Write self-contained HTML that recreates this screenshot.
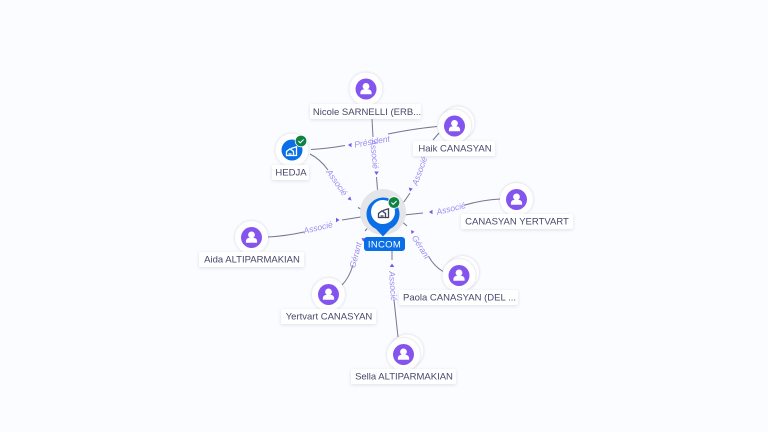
<!DOCTYPE html>
<html>
<head>
<meta charset="utf-8">
<style>
html,body{margin:0;padding:0;width:768px;height:432px;overflow:hidden;background:#fafcff}
svg{display:block}
.e{fill:none;stroke:#74768f;stroke-width:1}
.el{font:italic 8.5px "Liberation Sans",sans-serif;fill:#9a8cf0;text-anchor:middle;dominant-baseline:central}
.a{fill:#7a55e8}
.lb{fill:#fff;filter:url(#s)}
.t{font:9.5px "Liberation Sans",sans-serif;fill:#46476b;text-anchor:middle;dominant-baseline:central}
.n{fill:#fff;filter:url(#s2)}
.p{fill:#8455ee}
</style>
</head>
<body>
<svg width="768" height="432" viewBox="0 0 768 432" xmlns="http://www.w3.org/2000/svg">
<defs>
<filter id="s" x="-20%" y="-40%" width="140%" height="190%"><feDropShadow dx="0" dy="1" stdDeviation="1.5" flood-color="#50507a" flood-opacity=".16"/></filter>
<filter id="s2" x="-30%" y="-30%" width="160%" height="160%"><feDropShadow dx="0" dy="0" stdDeviation="1.2" flood-color="#50507a" flood-opacity=".28"/></filter>
<g id="person"><circle r="10.500" class="p"/><circle cy="-2.600" r="3.400" fill="#fff"/><path d="M-5.600 5.200v-1.500c0-2 1.600-3.300 3.500-3.300h4.200c1.900 0 3.500 1.300 3.500 3.300v1.500z" fill="#fff"/></g>
<g id="chk"><circle r="5.800" fill="#0f8246" stroke="#fff" stroke-width=".8"/><path d="M-2.600 0l1.800 1.900 3.400-3.400" fill="none" stroke="#fff" stroke-width="1"/></g>
<g id="bld"><path d="M-5.500 4.500v-4l3.500-2.700 3.500 2.700v4z" fill="none" stroke-width="1.300"/><path d="M-1-2.500l5.500-1.700v8.700h-3" fill="none" stroke-width="1.300"/><path d="M-3.500 3h3" stroke-width="1.300"/></g>
</defs>

<!-- edges -->
<path class="e" d="M311 149.500Q328 148.500 345 145.500"/>
<path class="e" d="M388 134Q412 129 437 126.500"/>
<path class="e" d="M372 119L373 137"/>
<path class="e" d="M376.500 177L378 196"/>
<path class="e" d="M439 133L433 140"/>
<path class="e" d="M410 193Q405 201 399 208"/>
<path class="e" d="M310 154Q320 159 328 170"/>
<path class="e" d="M358 207.500L368 213"/>
<path class="e" d="M500 199Q482 200 465 205"/>
<path class="e" d="M423 213L399 215.500"/>
<path class="e" d="M268 237Q286 236 304 232"/>
<path class="e" d="M342 220L367 216"/>
<path class="e" d="M342 285Q349 278 353 265"/>
<path class="e" d="M365 231L372 223"/>
<path class="e" d="M443 271.500Q434 266 429 257"/>
<path class="e" d="M407 226L399 219"/>
<path class="e" d="M398 337L394 300"/>
<path class="e" d="M392 260L392 251"/>

<!-- edge labels -->
<text class="el" transform="translate(372 141.500) rotate(-10)">Président</text>
<text class="el" transform="translate(374.500 154) rotate(85)">Associé</text>
<text class="el" transform="translate(419.500 171) rotate(-70)">Associé</text>
<text class="el" transform="translate(337 182.500) rotate(55)">Associé</text>
<text class="el" transform="translate(451 208.500) rotate(-14)">Associé</text>
<text class="el" transform="translate(318 227.500) rotate(-13)">Associé</text>
<text class="el" transform="translate(355.500 255) rotate(-75)">Gérant</text>
<text class="el" transform="translate(421 247) rotate(58)">Gérant</text>
<text class="el" transform="translate(393 286) rotate(86)">Associé</text>

<!-- arrowheads -->
<path class="a" d="M348 145l3.500-2.300v4.600z"/>
<path class="a" d="M376.500 175l-2.300-3.500h4.600z"/>
<path class="a" d="M410 191.500l-1.300-4 4 1.300z"/>
<path class="a" d="M351.500 200.500l-4-1.300 2.700-2.700z"/>
<path class="a" d="M429 212l3.500-2.300v4.600z"/>
<path class="a" d="M339.500 220l-3.500-2.300v4.600z"/>
<path class="a" d="M361.500 238l4 .5-2.300 3.200z"/>
<path class="a" d="M411 230l.5 4 3-2.300z"/>
<path class="a" d="M392 263.500l2.300 3.500h-4.600z"/>

<!-- centre node -->
<circle cx="383" cy="212" r="23" fill="#e4e5e9"/>
<path d="M383 236.500l-7-7.500a16.500 16.500 0 1 1 14 0z" fill="#0a6ee6"/>
<circle cx="383" cy="212" r="12" fill="#fff"/>
<use href="#bld" x="384" y="213" fill="none" stroke="#3f4160"/>
<use href="#chk" x="394" y="202.500"/>
<rect x="364" y="237" width="41" height="14" rx="3" fill="#0a6ee6"/>
<text x="384.500" y="245" style="font:9.500px 'Liberation Sans',sans-serif;fill:#fff;text-anchor:middle;dominant-baseline:central;letter-spacing:.3px">INCOM</text>

<!-- Nicole -->
<circle class="n" cx="366" cy="89" r="16.500"/>
<use href="#person" x="366" y="89"/>
<rect class="lb" x="310" y="104" width="111" height="15" rx="2"/>
<text class="t" x="367" y="112.500">Nicole SARNELLI (ERB...</text>

<!-- Haik -->
<circle class="n" cx="458" cy="123" r="16.500"/>
<circle class="n" cx="454.500" cy="126" r="16.500"/>
<use href="#person" x="454.500" y="126"/>
<rect class="lb" x="413" y="141" width="82" height="15" rx="2"/>
<text class="t" x="455" y="149">Haik CANASYAN</text>

<!-- HEDJA -->
<circle class="n" cx="292" cy="150" r="16.500"/>
<circle cx="292" cy="150" r="10.500" fill="#0a6ee6"/>
<use href="#bld" x="292" y="151" stroke="#fff"/>
<use href="#chk" x="301" y="141"/>
<rect class="lb" x="272" y="165" width="37" height="15" rx="2"/>
<text class="t" x="291" y="173">HEDJA</text>

<!-- CANASYAN YERTVART -->
<circle class="n" cx="516.500" cy="199.500" r="16.500"/>
<use href="#person" x="516.500" y="199.500"/>
<rect class="lb" x="461" y="214" width="112" height="15" rx="2"/>
<text class="t" x="517" y="222">CANASYAN YERTVART</text>

<!-- Aida -->
<circle class="n" cx="251.500" cy="237.500" r="16.500"/>
<use href="#person" x="251.500" y="237.500"/>
<rect class="lb" x="199" y="252" width="105" height="15" rx="2"/>
<text class="t" x="252" y="260">Aida ALTIPARMAKIAN</text>

<!-- Yertvart -->
<circle class="n" cx="328.500" cy="294.500" r="16.500"/>
<use href="#person" x="328.500" y="294.500"/>
<rect class="lb" x="281" y="309" width="95" height="15" rx="2"/>
<text class="t" x="329" y="317">Yertvart CANASYAN</text>

<!-- Paola -->
<circle class="n" cx="462.500" cy="272.500" r="16.500"/>
<circle class="n" cx="459" cy="275.500" r="16.500"/>
<use href="#person" x="459" y="275.500"/>
<rect class="lb" x="399" y="290" width="119" height="15" rx="2"/>
<text class="t" x="459.500" y="298">Paola CANASYAN (DEL ...</text>

<!-- Sella -->
<circle class="n" cx="407" cy="351" r="16.500"/>
<circle class="n" cx="403.500" cy="354.500" r="16.500"/>
<use href="#person" x="403.500" y="354.500"/>
<rect class="lb" x="351" y="369" width="105" height="15" rx="2"/>
<text class="t" x="404" y="377">Sella ALTIPARMAKIAN</text>
</svg>
</body>
</html>
